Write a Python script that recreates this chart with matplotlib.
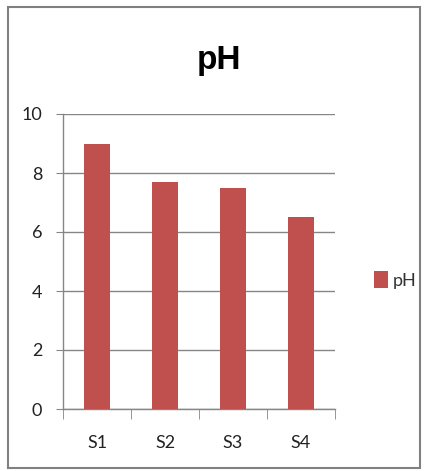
import matplotlib
matplotlib.use("Agg")
import matplotlib.pyplot as plt
from matplotlib.patches import Rectangle

samples = ["S1", "S2", "S3", "S4"]
ph_values = [9.0, 7.7, 7.5, 6.5]
y_ticks = [0, 2, 4, 6, 8, 10]

bar_color = "#C0504D"
line_color = "#868686"

fig = plt.figure(figsize=(4.26, 4.71), dpi=100)
fig.patch.set_facecolor("white")

# chart frame
fig.patches.append(Rectangle((8 / 426, 1 - 468 / 471), 412 / 426, 461 / 471,
                             transform=fig.transFigure, fill=False,
                             edgecolor="#808080", linewidth=1.5))

ax = fig.add_axes([63 / 426, 1 - 409 / 471, 272 / 426, 295 / 471])
x = range(len(samples))
ax.bar(x, ph_values, width=0.38, color=bar_color, zorder=3, label="pH")

ax.set_xlim(-0.5, len(samples) - 0.5)
ax.set_ylim(0, 10)
ax.set_yticks(y_ticks)
ax.set_yticklabels([str(t) for t in y_ticks], fontsize=13, family="Lato", color="#222222")
ax.set_xticks(list(x))
ax.set_xticklabels(samples, fontsize=13, family="Lato", color="#222222")
ax.set_xticks([i - 0.5 for i in range(len(samples) + 1)], minor=True)

ax.tick_params(axis="x", which="major", length=0, pad=19)
ax.tick_params(axis="x", which="minor", length=7, color=line_color, direction="out")
ax.tick_params(axis="y", length=5, color=line_color, direction="out", pad=10)

ax.grid(axis="y", color=line_color, linewidth=1, zorder=0)
for side in ["top", "right"]:
    ax.spines[side].set_visible(False)
for side in ["left", "bottom"]:
    ax.spines[side].set_color(line_color)
    ax.spines[side].set_linewidth(1)

fig.text(219 / 426, 1 - 61 / 471, "pH", ha="center", va="center",
         fontsize=24, fontweight="bold", family="Liberation Sans")

leg = fig.legend(loc="center left", bbox_to_anchor=(358 / 426, 1 - 280 / 471),
                 frameon=False, handlelength=0.75, handleheight=1.1,
                 handletextpad=0.3, prop={"family": "Lato", "size": 13})
for txt in leg.get_texts():
    txt.set_color("#333333")

fig.savefig("out.png", dpi=100)
